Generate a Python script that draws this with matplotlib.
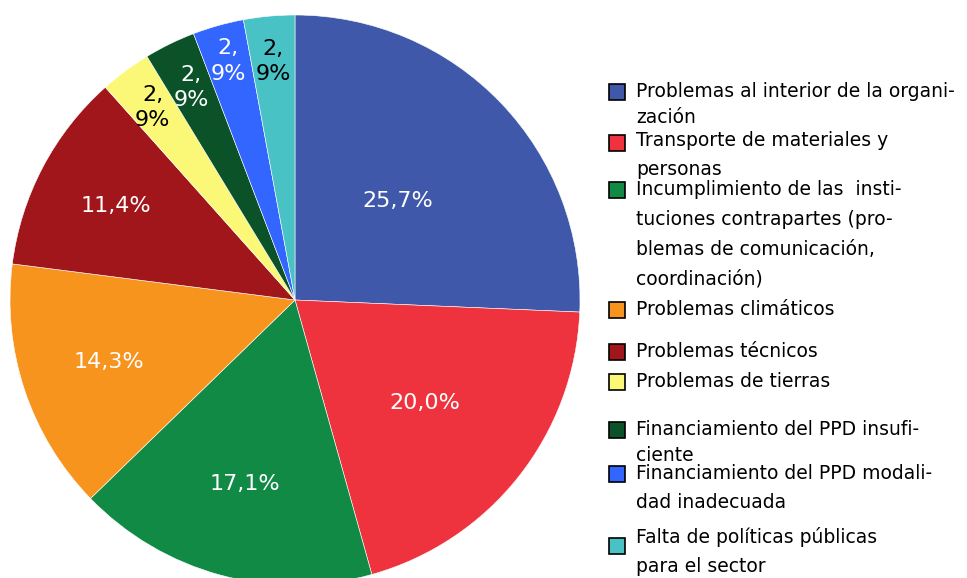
import matplotlib
matplotlib.use("Agg")
import matplotlib.pyplot as plt
import numpy as np
from matplotlib.patches import Rectangle

categories = [
    "Problemas al interior de la organi-\nzación",
    "Transporte de materiales y\npersonas",
    "Incumplimiento de las  insti-\ntuciones contrapartes (pro-\nblemas de comunicación,\ncoordinación)",
    "Problemas climáticos",
    "Problemas técnicos",
    "Problemas de tierras",
    "Financiamiento del PPD insufi-\nciente",
    "Financiamiento del PPD modali-\ndad inadecuada",
    "Falta de políticas públicas\npara el sector",
]
values = [25.7, 20.0, 17.1, 14.3, 11.4, 2.9, 2.9, 2.9, 2.9]
pct_labels = ["25,7%", "20,0%", "17,1%", "14,3%", "11,4%", "2,\n9%", "2,\n9%", "2,\n9%", "2,\n9%"]

colors = ["#3F58AA", "#EF333E", "#118A45", "#F7941E", "#A0161B",
          "#FCF877", "#0B5229", "#3366FF", "#48C2C5"]
label_colors = ["white", "white", "white", "white", "white", "black", "white", "white", "black"]
label_dist = [0.50, 0.58, 0.67, 0.69, 0.71, 0.84, 0.83, 0.87, 0.84]

W, H = 967, 578
fig = plt.figure(figsize=(W / 100, H / 100), dpi=100)
cx, cy, R = 295, 300, 285
ax = fig.add_axes([(cx - R) / W, (H - cy - R) / H, 2 * R / W, 2 * R / H])
wedges, _ = ax.pie(values, colors=colors, startangle=90, counterclock=False,
                   radius=1, wedgeprops=dict(linewidth=0.4, edgecolor="white"))
ax.set_xlim(-1, 1)
ax.set_ylim(-1, 1)
ax.set_aspect("equal")
ax.axis("off")

for w, lab, col, d in zip(wedges, pct_labels, label_colors, label_dist):
    ang = np.deg2rad((w.theta1 + w.theta2) / 2)
    ax.text(d * np.cos(ang), d * np.sin(ang), lab, ha="center", va="center",
            color=col, fontsize=16, linespacing=1.35)

# legend (manual)
marker_y = [92, 143, 190, 310, 352, 382, 430, 474, 546]
text_y = [92, 141, 190, 310, 352, 382, 430, 474, 537]
spacing = [1.45, 1.65, 1.72, 1.4, 1.4, 1.4, 1.45, 1.7, 1.65]
for lab, col, my, ty, sp in zip(categories, colors, marker_y, text_y, spacing):
    fig.patches.append(Rectangle((609 / W, 1 - (my + 8) / H), 16 / W, 16 / H,
                                 transform=fig.transFigure, facecolor=col,
                                 edgecolor="black", linewidth=1.2))
    fig.text(636 / W, 1 - (ty - 10) / H, lab, ha="left", va="top",
             fontsize=13.5, linespacing=sp, color="black")

fig.savefig("out.png", dpi=100)
